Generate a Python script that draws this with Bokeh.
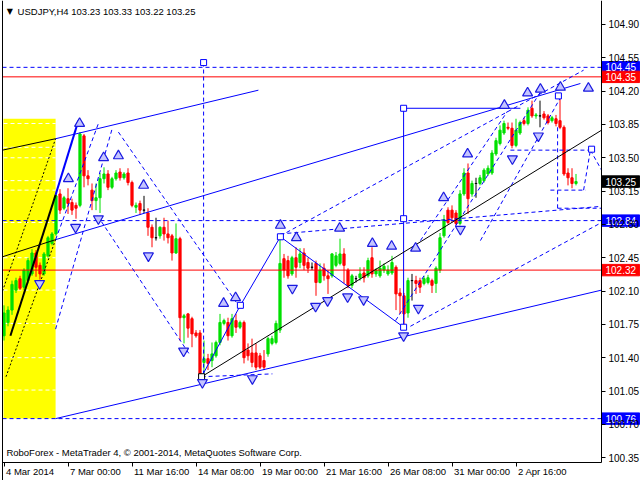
from bokeh.plotting import figure
from bokeh.models import (Range1d, FixedTicker, PrintfTickFormatter, Label, Span,
                          ColumnDataSource, LinearAxis)
from bokeh.core.properties import value
from bokeh.embed import file_html
from bokeh.resources import INLINE

# ---------------- data (H4 candles, bar index 0..143) ----------------
opens = [101.63,101.77,101.90,102.11,102.23,102.14,102.21,102.28,102.50,102.37,
         102.28,102.47,102.60,102.70,103.12,102.97,103.07,103.03,103.00,103.00,
         103.73,103.31,103.16,103.05,103.08,103.28,103.33,103.19,103.28,103.35,
         103.29,103.34,103.24,102.98,103.02,102.95,102.92,102.77,102.66,102.68,
         102.77,102.70,102.68,102.50,102.65,101.82,101.86,101.81,101.66,101.66,
         101.35,101.39,101.37,101.42,101.56,101.76,101.77,101.63,101.79,101.72,
         101.77,101.48,101.45,101.45,101.42,101.37,101.44,101.55,101.56,101.69,
         102.44,102.42,102.28,102.45,102.40,102.50,102.40,102.35,102.39,102.19,
         102.34,102.26,102.26,102.37,102.39,102.49,102.32,102.16,102.23,102.24,
         102.29,102.26,102.45,102.28,102.26,102.32,102.28,102.29,102.35,102.08,
         102.05,101.87,102.21,102.21,102.21,102.18,102.19,102.21,102.18,102.32,
         102.68,102.95,102.95,102.92,102.81,103.12,103.34,103.12,103.23,103.23,
         103.26,103.33,103.34,103.54,103.65,103.76,103.82,103.81,103.63,103.76,
         103.89,103.86,104.02,103.94,103.94,103.96,103.94,103.89,103.91,103.89,
         103.82,103.34,103.29,103.23]
highs = [101.95,101.94,102.21,102.24,102.26,102.34,102.45,102.54,102.53,102.40,
         102.51,102.68,102.72,103.12,103.17,103.10,103.18,103.07,103.03,103.77,
         103.75,103.37,103.23,103.23,103.34,103.40,103.37,103.30,103.37,103.39,
         103.35,103.39,103.26,103.03,103.05,103.10,102.97,102.80,102.87,102.78,
         102.87,102.84,102.70,102.81,102.67,101.86,101.87,101.83,101.69,101.69,
         101.58,101.44,101.56,101.58,101.86,101.81,101.82,101.86,101.86,101.79,
         101.79,101.55,101.60,101.55,101.45,101.48,101.62,101.63,101.79,102.66,
         102.49,102.47,102.47,102.56,102.55,102.55,102.45,102.40,102.42,102.39,
         102.39,102.32,102.50,102.51,102.65,102.55,102.34,102.28,102.26,102.35,
         102.35,102.45,102.56,102.34,102.42,102.39,102.37,102.47,102.37,102.13,
         102.08,102.24,102.28,102.26,102.24,102.26,102.27,102.23,102.36,102.71,
         102.90,102.98,103.00,102.95,103.16,103.39,103.44,103.26,103.29,103.32,
         103.39,103.42,103.58,103.71,103.84,103.89,103.87,103.87,103.91,103.89,
         103.92,104.03,104.10,103.97,104.10,103.99,103.96,103.94,103.95,104.15,
         103.84,103.39,103.39,103.33]
lows = [101.58,101.73,101.85,102.08,102.11,102.11,102.18,102.26,102.25,102.22,
        102.26,102.45,102.58,102.68,102.91,102.95,102.91,102.90,102.86,102.98,
        103.19,103.21,102.95,102.95,102.92,103.23,103.16,103.17,103.26,103.26,
        103.27,103.21,102.98,102.92,102.90,102.92,102.68,102.56,102.63,102.65,
        102.63,102.60,102.42,102.49,101.58,101.55,101.61,101.51,101.61,101.19,
        101.19,101.27,101.30,101.40,101.53,101.74,101.58,101.61,101.66,101.70,
        101.34,101.37,101.30,101.27,101.28,101.27,101.41,101.53,101.54,101.66,
        102.24,102.23,102.26,102.24,102.34,102.32,102.29,102.32,102.05,102.18,
        102.21,102.07,102.24,102.35,102.37,102.18,102.13,102.13,102.19,102.21,
        102.19,102.24,102.24,102.25,102.24,102.29,102.26,102.27,101.90,101.86,
        101.74,101.82,102.00,102.07,102.08,102.16,102.17,102.08,102.08,102.29,
        102.66,102.80,102.82,102.79,102.79,103.10,102.91,103.09,103.08,103.21,
        103.24,103.31,103.32,103.52,103.63,103.74,103.79,103.60,103.61,103.74,
        103.84,103.84,103.92,103.91,103.82,103.90,103.85,103.87,103.83,103.80,
        103.31,103.21,103.18,103.21]
closes = [101.87,101.90,102.17,102.21,102.13,102.32,102.42,102.50,102.35,102.28,
          102.49,102.66,102.70,103.10,102.95,103.08,103.02,102.95,102.97,103.75,
          103.31,103.28,103.05,103.08,103.28,103.33,103.19,103.28,103.34,103.29,
          103.33,103.24,103.00,103.00,102.95,102.95,102.77,102.66,102.66,102.77,
          102.70,102.66,102.50,102.65,101.82,101.84,101.71,101.65,101.63,101.21,
          101.39,101.34,101.44,101.56,101.77,101.79,101.63,101.81,101.72,101.77,
          101.40,101.42,101.35,101.30,101.30,101.30,101.60,101.60,101.76,102.39,
          102.32,102.26,102.45,102.35,102.49,102.37,102.34,102.35,102.19,102.32,
          102.26,102.23,102.49,102.47,102.49,102.37,102.16,102.26,102.23,102.28,
          102.24,102.42,102.28,102.32,102.34,102.36,102.32,102.40,102.07,102.05,
          101.86,102.21,102.21,102.18,102.14,102.23,102.24,102.16,102.34,102.66,
          102.85,102.82,102.87,102.81,103.12,103.34,103.07,103.23,103.23,103.29,
          103.37,103.39,103.55,103.68,103.79,103.86,103.81,103.63,103.79,103.87,
          103.86,104.00,103.94,103.95,103.94,103.92,103.87,103.92,103.86,103.82,
          103.33,103.29,103.23,103.25]

x_tick_bars = [0, 16, 32, 48, 64, 80, 96, 112, 128]
x_tick_labels = ["4 Mar 2014", "7 Mar 00:00", "11 Mar 16:00", "14 Mar 08:00", "19 Mar 00:00",
                 "21 Mar 16:00", "26 Mar 08:00", "31 Mar 00:00", "2 Apr 16:00"]
y_ticks = [100.35, 100.70, 101.05, 101.40, 101.75, 102.10, 102.45, 102.80,
           103.15, 103.50, 103.85, 104.20, 104.55, 104.90]

# horizontal levels: (price, colour, dashed)
h_levels = [(104.45, "#0000ff", True), (104.35, "#ff0000", False), (102.84, "#0000ff", True),
            (102.32, "#ff0000", False), (100.76, "#0000ff", True)]
# price boxes on the axis: (price, background)
box_prices = [104.45, 104.35, 103.25, 102.84, 102.32, 100.76]
box_colors = ["#0000ff", "#ff0000", "#000000", "#0000ff", "#ff0000", "#0000ff"]

# yellow zone (bars, prices)
yellow_box = (-0.125, 12.9, 100.76, 103.91)
yellow_levels = [103.86, 103.61, 103.50, 103.26, 103.16, 102.82, 102.45, 102.11, 101.76, 101.40, 101.06]

# line objects as (bar0, price0, bar1, price1)
solid_blue = [(12.9, 103.70, 63.6, 104.21), (12.9, 102.64, 144.1, 104.28),
              (12.9, 100.76, 149.4, 102.11),
              (49.4, 101.20, 59.1, 101.95), (59.1, 101.95, 69.1, 102.67),
              (69.1, 102.67, 99.9, 101.72), (99.9, 101.72, 99.9, 104.02),
              (99.9, 104.02, 129.1, 104.02)]
thick_blue = [(12.9, 103.11, 18.6, 103.89)]
solid_black = [(-0.375, 103.58, 12.9, 103.70), (-0.375, 102.46, 12.9, 102.64),
               (49.4, 101.20, 149.4, 103.79)]
thick_black = [(1.6, 101.63, 12.9, 103.11)]
dashed_blue = [(28.6, 103.77, 58.6, 101.95), (23.4, 102.89, 46.6, 101.42),
               (69.1, 102.70, 149.4, 102.99), (101.6, 101.73, 149.4, 102.82),
               (97.9, 101.79, 134.1, 104.19), (104.1, 102.63, 125.9, 103.99),
               (119.1, 102.63, 139.1, 104.13), (69.1, 102.68, 144.9, 104.42),
               (49.9, 104.50, 49.9, 101.20), (49.4, 101.20, 67.1, 101.23),
               (138.4, 103.82, 138.4, 102.97), (138.4, 102.97, 149.4, 102.97),
               (136.6, 103.16, 145.4, 103.16), (126.6, 103.58, 146.1, 103.58),
               (144.9, 103.16, 146.6, 103.58), (146.6, 103.58, 149.4, 103.37),
               (12.9, 102.64, 23.6, 103.86), (12.9, 101.70, 27.0, 103.80)]
dashed_black = [(0.5, 101.20, 12.9, 102.64), (-0.375, 102.10, 12.9, 103.70)]
squares_blue_x = [59.1, 69.1, 99.9, 99.9, 99.9, 138.6, 146.9, 49.9]
squares_blue_y = [101.95, 102.67, 101.72, 102.86, 104.02, 104.15, 103.59, 104.50]
squares_black_x = [49.4]
squares_black_y = [101.20]

up_x = [18.9, 16.1, 24.9, 28.6, 34.9, 54.9, 57.9, 69.1, 73.1, 83.9, 92.1, 96.9, 102.9,
        109.9, 115.9, 125.1, 130.9, 134.1, 139.1, 146.1]
up_y = [103.86, 103.28, 103.50, 103.52, 103.21, 101.97, 102.03, 102.79, 102.66, 102.76,
        102.60, 102.57, 102.55, 103.08, 103.54, 104.05, 104.18, 104.22, 104.24, 104.23]
dn_x = [8.9, 17.9, 23.6, 36.1, 44.9, 49.6, 62.1, 72.1, 77.9, 80.9, 85.9, 89.9, 99.9,
        103.6, 114.1, 127.1, 133.6]
dn_y = [102.18, 102.77, 102.86, 102.47, 101.47, 101.14, 101.18, 102.13, 101.94, 102.00,
        102.04, 102.01, 101.63, 101.92, 102.75, 103.49, 103.73]

title_text = "USDJPY,H4  103.23 103.33 103.22 103.25"
footer_text = "RoboForex - MetaTrader 4, \u00a9 2001-2014, MetaQuotes Software Corp."

# ---------------- figure ----------------
FONT = "Liberation Sans"
BULL = "#00e000"
BEAR = "#ff0000"
X0, XB, XAX, XBOX, X1 = -0.875, -0.375, 149.375, 158.9, 159.125  # canvas/border/axis/box end/canvas
Y0, YAX, Y1 = 100.110, 100.299, 105.152                          # canvas bottom, time axis, canvas top
BOX_HALF = 0.06                                                  # half height of a price box

p = figure(width=640, height=480, output_backend="svg", toolbar_location=None,
           x_range=Range1d(X0, X1), y_range=Range1d(Y0, Y1),
           x_axis_location=None, y_axis_location=None,
           min_border_left=0, min_border_top=0, min_border_right=0, min_border_bottom=0)
p.grid.visible = False
p.outline_line_color = None
p.background_fill_color = "white"
p.border_fill_color = "white"

yax = LinearAxis(fixed_location=XAX, bounds=(YAX, Y1))
p.add_layout(yax, "right")
xax = LinearAxis(fixed_location=YAX, bounds=(XB, XAX))
p.add_layout(xax, "below")

for ax in (xax, yax):
    ax.axis_line_color = "black"
    ax.major_tick_line_color = "black"
    ax.major_tick_out = 4
    ax.major_tick_in = 0
    ax.minor_tick_out = 0
    ax.minor_tick_in = 0
    ax.major_label_text_font = FONT
    ax.major_label_text_color = "black"

yax.ticker = FixedTicker(ticks=y_ticks)
yax.formatter = PrintfTickFormatter(format="%.2f")
yax.major_label_standoff = 3
yax.major_label_text_font_size = "10px"
xax.ticker = FixedTicker(ticks=x_tick_bars)
xax.major_label_overrides = {b: "" for b in x_tick_bars}

# time labels, left-aligned just right of each tick
for b, t in zip(x_tick_bars, x_tick_labels):
    p.add_layout(Label(x=b, y=YAX, x_offset=2, y_offset=-3, text=t, text_font=FONT,
                       text_font_size="9.5px", text_align="left", text_baseline="top",
                       text_color="black"))

# left border
p.add_layout(Span(location=XB, dimension="height", line_color="black", line_width=1))

# yellow zone
p.quad(left=[yellow_box[0]], right=[yellow_box[1]], bottom=[yellow_box[2]], top=[yellow_box[3]],
       fill_color="#ffff00", line_color=None)
p.segment(x0=[yellow_box[0]] * len(yellow_levels), y0=yellow_levels,
          x1=[yellow_box[1]] * len(yellow_levels), y1=yellow_levels,
          line_color="white", line_dash="4 3", line_width=1)

# candles
bars = list(range(len(opens)))
cols = []
for o, c in zip(opens, closes):
    cols.append(BULL if c > o else (BEAR if c < o else "black"))
src = ColumnDataSource(dict(x=bars, o=opens, h=highs, l=lows, c=closes,
                            top=[max(o, c) for o, c in zip(opens, closes)],
                            bot=[min(o, c) for o, c in zip(opens, closes)], col=cols))
p.segment(x0="x", y0="h", x1="x", y1="l", line_color="col", line_width=1, source=src)
p.vbar(x="x", top="top", bottom="bot", width=0.55, fill_color="col", line_color="col",
       line_width=1, source=src)

# horizontal levels (stop at the price axis)
for lvl, colr, dashed in h_levels:
    p.segment(x0=[XB], y0=[lvl], x1=[XAX], y1=[lvl], line_color=colr, line_width=1,
              line_dash="4 3" if dashed else "solid")

def segs(lst, color, width=1, dash="solid"):
    p.segment(x0=[s[0] for s in lst], y0=[s[1] for s in lst],
              x1=[s[2] for s in lst], y1=[s[3] for s in lst],
              line_color=color, line_width=width, line_dash=dash)

segs(dashed_blue, "#0000ff", 1, "4 3")
segs(dashed_black, "black", 1, "2 2")
segs(solid_blue, "#0000ff", 1)
segs(thick_blue, "#0000ff", 2)
segs(solid_black, "black", 1)
segs(thick_black, "black", 2)

p.scatter(squares_blue_x, squares_blue_y, marker="square", size=6, fill_color="white",
          line_color="#0000ff", line_width=1)
p.scatter(squares_black_x, squares_black_y, marker="square", size=6, fill_color="white",
          line_color="black", line_width=1)

# arrows
p.scatter(up_x, up_y, marker="triangle", size=10, fill_color="#c4c4ff",
          line_color="#1a1ae0", line_width=1.2)
p.scatter(dn_x, dn_y, marker="inverted_triangle", size=10, fill_color="#c4c4ff",
          line_color="#1a1ae0", line_width=1.2)

# price boxes on the right axis
bsrc = ColumnDataSource(dict(y=box_prices, col=box_colors,
                             top=[v + BOX_HALF for v in box_prices],
                             bot=[v - BOX_HALF for v in box_prices],
                             txt=[f"{v:.2f}" for v in box_prices]))
p.quad(left=XAX, right=XBOX, top="top", bottom="bot", fill_color="col", line_color="col",
       source=bsrc)
p.text(x=XAX, y="y", text="txt", x_offset=4, text_baseline="middle", text_align="left",
       text_font=value(FONT), text_font_size="10px", text_color="white", source=bsrc)

# title and footer
p.add_layout(Label(x=0.7, y=105.037, text="\u25bc", text_font="DejaVu Sans", text_font_size="8px",
                   text_baseline="middle", text_color="black"))
p.add_layout(Label(x=3.4, y=105.037, text=title_text, text_font=FONT, text_font_size="9.5px",
                   text_baseline="middle", text_color="black"))
p.add_layout(Label(x=0.6, y=100.40, text=footer_text, text_font=FONT, text_font_size="9.5px",
                   text_baseline="middle", text_color="black"))

open("out.html", "w").write(file_html(p, INLINE))
